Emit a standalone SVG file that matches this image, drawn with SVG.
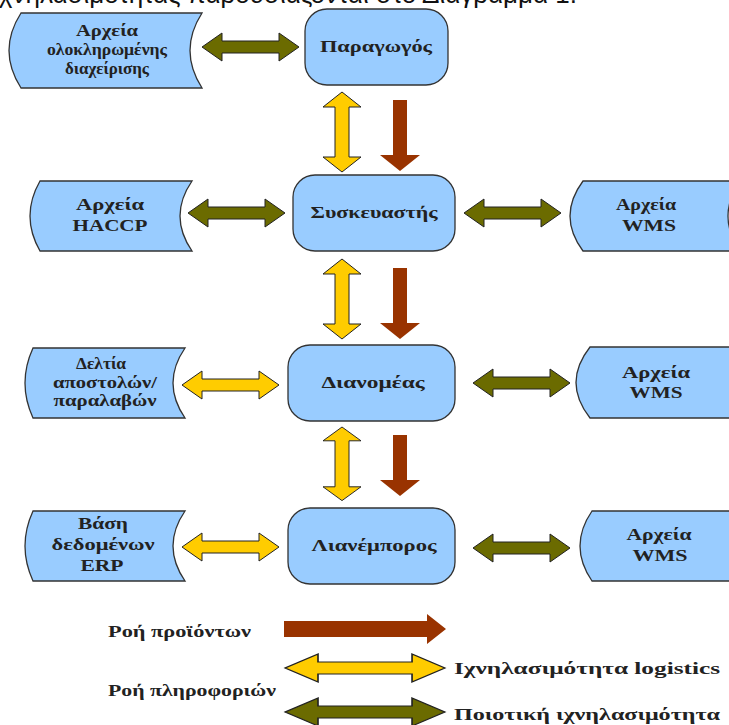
<svg xmlns="http://www.w3.org/2000/svg" width="729" height="725" viewBox="0 0 729 725">
<style>
.node{fill:#99CCFF;stroke:#333;stroke-width:1.3}
.doc{fill:#99CCFF;stroke:#333;stroke-width:1.3}
.t{font-family:"Liberation Serif","DejaVu Serif",serif;font-weight:bold;font-size:16px;fill:#222;text-anchor:middle}
.lg{font-family:"Liberation Serif","DejaVu Serif",serif;font-weight:bold;font-size:17px;fill:#222}
.olive{fill:#6B6B00;stroke:#222;stroke-width:1}
.yellow{fill:#FFCC00;stroke:#222;stroke-width:1}
.brown{fill:#993300}
</style>
<defs>
<path id="dh" d="M0,0 L20,-14 L20,-6 L77,-6 L77,-14 L97,0 L77,14 L77,6 L20,6 L20,14 Z"/>
<path id="dv" d="M0,0 L-19,15 L-7,15 L-7,65 L-19,65 L0,80 L19,65 L7,65 L7,15 L19,15 Z"/>
</defs>
<text x="577" y="3" font-family="Liberation Sans, Arial, sans-serif" font-size="26" text-anchor="end" fill="#111">ιχνηλασιμότητας παρουσιάζονται στο Διάγραμμα 1.</text>

<g id="connectors">
  <use href="#dh" class="olive" transform="translate(202,47)"/>
  <use href="#dh" class="olive" transform="translate(188,213)"/>
  <use href="#dh" class="olive" transform="translate(464,213)"/>
  <use href="#dh" class="yellow" transform="translate(182,385)"/>
  <use href="#dh" class="olive" transform="translate(473,383)"/>
  <use href="#dh" class="yellow" transform="translate(182,547)"/>
  <use href="#dh" class="olive" transform="translate(473,548)"/>
  <use href="#dv" class="yellow" transform="translate(342,92)"/>
  <use href="#dv" class="yellow" transform="translate(342,259)"/>
  <use href="#dv" class="yellow" transform="translate(342,427) scale(1,0.92)"/>
  <path class="brown" d="M393,100 L407,100 L407,155 L420,155 L400,171 L380,155 L393,155 Z"/>
  <path class="brown" d="M393,268 L407,268 L407,323 L420,323 L400,339 L380,323 L393,323 Z"/>
  <path class="brown" d="M393,435 L407,435 L407,480 L420,480 L400,496 L380,480 L393,480 Z"/>
</g>

<g id="n-paragogos">
  <rect class="node" x="305" y="9" width="143" height="76" rx="22"/>
  <text class="t" x="376" y="52" textLength="112" lengthAdjust="spacingAndGlyphs">Παραγωγός</text>
</g>
<g id="n-syskevastis">
  <rect class="node" x="293" y="175" width="162" height="76" rx="22"/>
  <text class="t" x="374" y="218" textLength="127" lengthAdjust="spacingAndGlyphs">Συσκευαστής</text>
</g>
<g id="n-dianomeas">
  <rect class="node" x="288" y="345" width="167" height="76" rx="22"/>
  <text class="t" x="373" y="388" textLength="103" lengthAdjust="spacingAndGlyphs">Διανομέας</text>
</g>
<g id="n-lianemporos">
  <rect class="node" x="288" y="508" width="167" height="76" rx="22"/>
  <text class="t" x="374" y="551" textLength="125" lengthAdjust="spacingAndGlyphs">Λιανέμπορος</text>
</g>

<g id="d-erp-integrated">
  <path class="doc" d="M21,13 L202,13 Q178,50.5 202,88 L21,88 Q-3,50.5 21,13 Z"/>
  <text class="t" x="107" y="36" textLength="62" lengthAdjust="spacingAndGlyphs">Αρχεία</text>
  <text class="t" x="107" y="55" textLength="120" lengthAdjust="spacingAndGlyphs">ολοκληρωμένης</text>
  <text class="t" x="107" y="74" textLength="84" lengthAdjust="spacingAndGlyphs">διαχείρισης</text>
</g>
<g id="d-haccp">
  <path class="doc" d="M40,181 L192,181 Q168,216 192,251 L40,251 Q20,216 40,181 Z"/>
  <text class="t" x="110" y="210" textLength="68" lengthAdjust="spacingAndGlyphs">Αρχεία</text>
  <text class="t" x="110" y="231" textLength="75" lengthAdjust="spacingAndGlyphs">HACCP</text>
</g>
<g id="d-wms1">
  <path class="doc" d="M583,181 L740,181 Q716,216 740,251 L583,251 Q557,216 583,181 Z"/>
  <text class="t" x="646" y="210" textLength="60" lengthAdjust="spacingAndGlyphs">Αρχεία</text>
  <text class="t" x="649" y="231" textLength="54" lengthAdjust="spacingAndGlyphs">WMS</text>
</g>
<g id="d-deltia">
  <path class="doc" d="M33,348 L185,348 Q161,383 185,418 L33,418 Q17,383 33,348 Z"/>
  <text class="t" x="101" y="369" textLength="50" lengthAdjust="spacingAndGlyphs">Δελτία</text>
  <text class="t" x="105" y="388" textLength="104" lengthAdjust="spacingAndGlyphs">αποστολών/</text>
  <text class="t" x="105" y="406" textLength="103" lengthAdjust="spacingAndGlyphs">παραλαβών</text>
</g>
<g id="d-wms2">
  <path class="doc" d="M590,347 L742,347 Q718,382.5 742,418 L590,418 Q562,382.5 590,347 Z"/>
  <text class="t" x="656" y="378" textLength="68" lengthAdjust="spacingAndGlyphs">Αρχεία</text>
  <text class="t" x="656" y="398" textLength="53" lengthAdjust="spacingAndGlyphs">WMS</text>
</g>
<g id="d-erp">
  <path class="doc" d="M33,511 L185,511 Q161,546 185,581 L33,581 Q17,546 33,511 Z"/>
  <text class="t" x="103" y="529" textLength="50" lengthAdjust="spacingAndGlyphs">Βάση</text>
  <text class="t" x="103" y="550" textLength="103" lengthAdjust="spacingAndGlyphs">δεδομένων</text>
  <text class="t" x="102" y="571" textLength="43" lengthAdjust="spacingAndGlyphs">ERP</text>
</g>
<g id="d-wms3">
  <path class="doc" d="M592,511 L745,511 Q721,546 745,581 L592,581 Q568,546 592,511 Z"/>
  <text class="t" x="659" y="540" textLength="65" lengthAdjust="spacingAndGlyphs">Αρχεία</text>
  <text class="t" x="660" y="561" textLength="55" lengthAdjust="spacingAndGlyphs">WMS</text>
</g>

<g id="legend">
  <text class="lg" x="108" y="637" textLength="143" lengthAdjust="spacingAndGlyphs">Ροή προϊόντων</text>
  <path class="brown" d="M284,621 L427,621 L427,614 L446,629 L427,644 L427,637 L284,637 Z"/>
  <use href="#dh" class="yellow" transform="translate(285,668) scale(1.65,1)"/>
  <text class="lg" x="454" y="674" textLength="266" lengthAdjust="spacingAndGlyphs">Ιχνηλασιμότητα logistics</text>
  <text class="lg" x="108" y="696" textLength="168" lengthAdjust="spacingAndGlyphs">Ροή πληροφοριών</text>
  <use href="#dh" class="olive" transform="translate(285,712) scale(1.65,1)"/>
  <text class="lg" x="454" y="720" textLength="266" lengthAdjust="spacingAndGlyphs">Ποιοτική ιχνηλασιμότητα</text>
</g>
</svg>
